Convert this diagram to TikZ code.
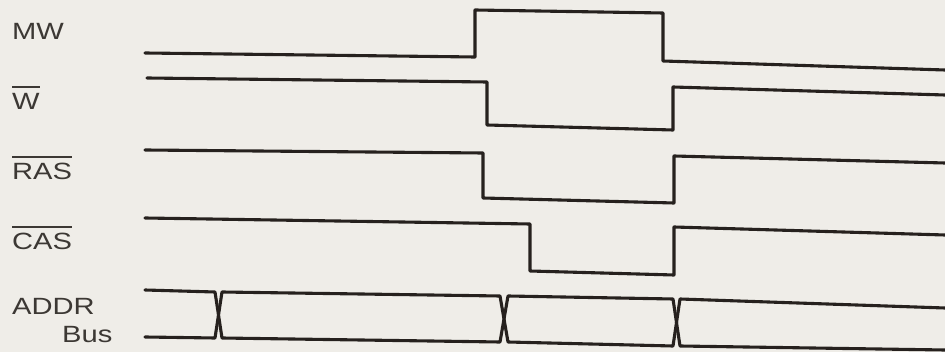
\documentclass[tikz,border=0pt]{standalone}
\usepackage{fontspec}
\setmainfont{Liberation Sans}
\definecolor{paper}{RGB}{239,237,232}
\definecolor{ink}{RGB}{38,33,30}
\definecolor{txt}{RGB}{60,56,52}
\newcommand\barred[1]{\setbox0\hbox{#1}\rlap{\raisebox{\dimexpr\ht0+6pt\relax}{\rule{\wd0}{1.4pt}}}\box0}
\begin{document}
\begin{tikzpicture}[x=1pt,y=-1pt,
  wave/.style={draw=ink,line width=3.1pt,line join=round,line cap=round},
  lbl/.style={anchor=base west,inner sep=0pt,text=txt,font=\fontsize{23.5}{26}\selectfont}]
\fill[paper] (0,0) rectangle (945,352);
\useasboundingbox (0,0) rectangle (945,352);
% labels
\node[lbl] (mw)   at (12,40)  {\scalebox{1.24}[1]{MW}};
\node[lbl] (w)    at (12,110) {\scalebox{1.24}[1]{\barred{W}}};
\node[lbl] (ras)  at (12,180) {\scalebox{1.24}[1]{\barred{RAS}}};
\node[lbl] (cas)  at (12,250) {\scalebox{1.24}[1]{\barred{CAS}}};
\node[lbl] (addr) at (12,315) {\scalebox{1.24}[1]{ADDR}};
\node[lbl] (bus)  at (62,343) {\scalebox{1.24}[1]{Bus}};
% waveforms
\draw[wave] (145,53) -- (475,57) -- (475,10) -- (663,13) -- (663,61) -- (945,70);
\draw[wave] (147,78) -- (487,82) -- (487,125) -- (673,130) -- (673,87) -- (945,95);
\draw[wave] (145,150) -- (483,153) -- (483,198) -- (674,203) -- (674,156) -- (945,163);
\draw[wave] (145,218) -- (530,224) -- (530,271) -- (674,275) -- (674,227) -- (945,235);
\draw[wave] (145,290) -- (215,292) -- (222,338) -- (500,342) -- (508,296) -- (673,299) -- (680,346) -- (945,350);
\draw[wave] (145,337) -- (215,338) -- (222,292) -- (500,296) -- (508,342) -- (673,346) -- (680,299) -- (945,308);
\end{tikzpicture}
\end{document}
